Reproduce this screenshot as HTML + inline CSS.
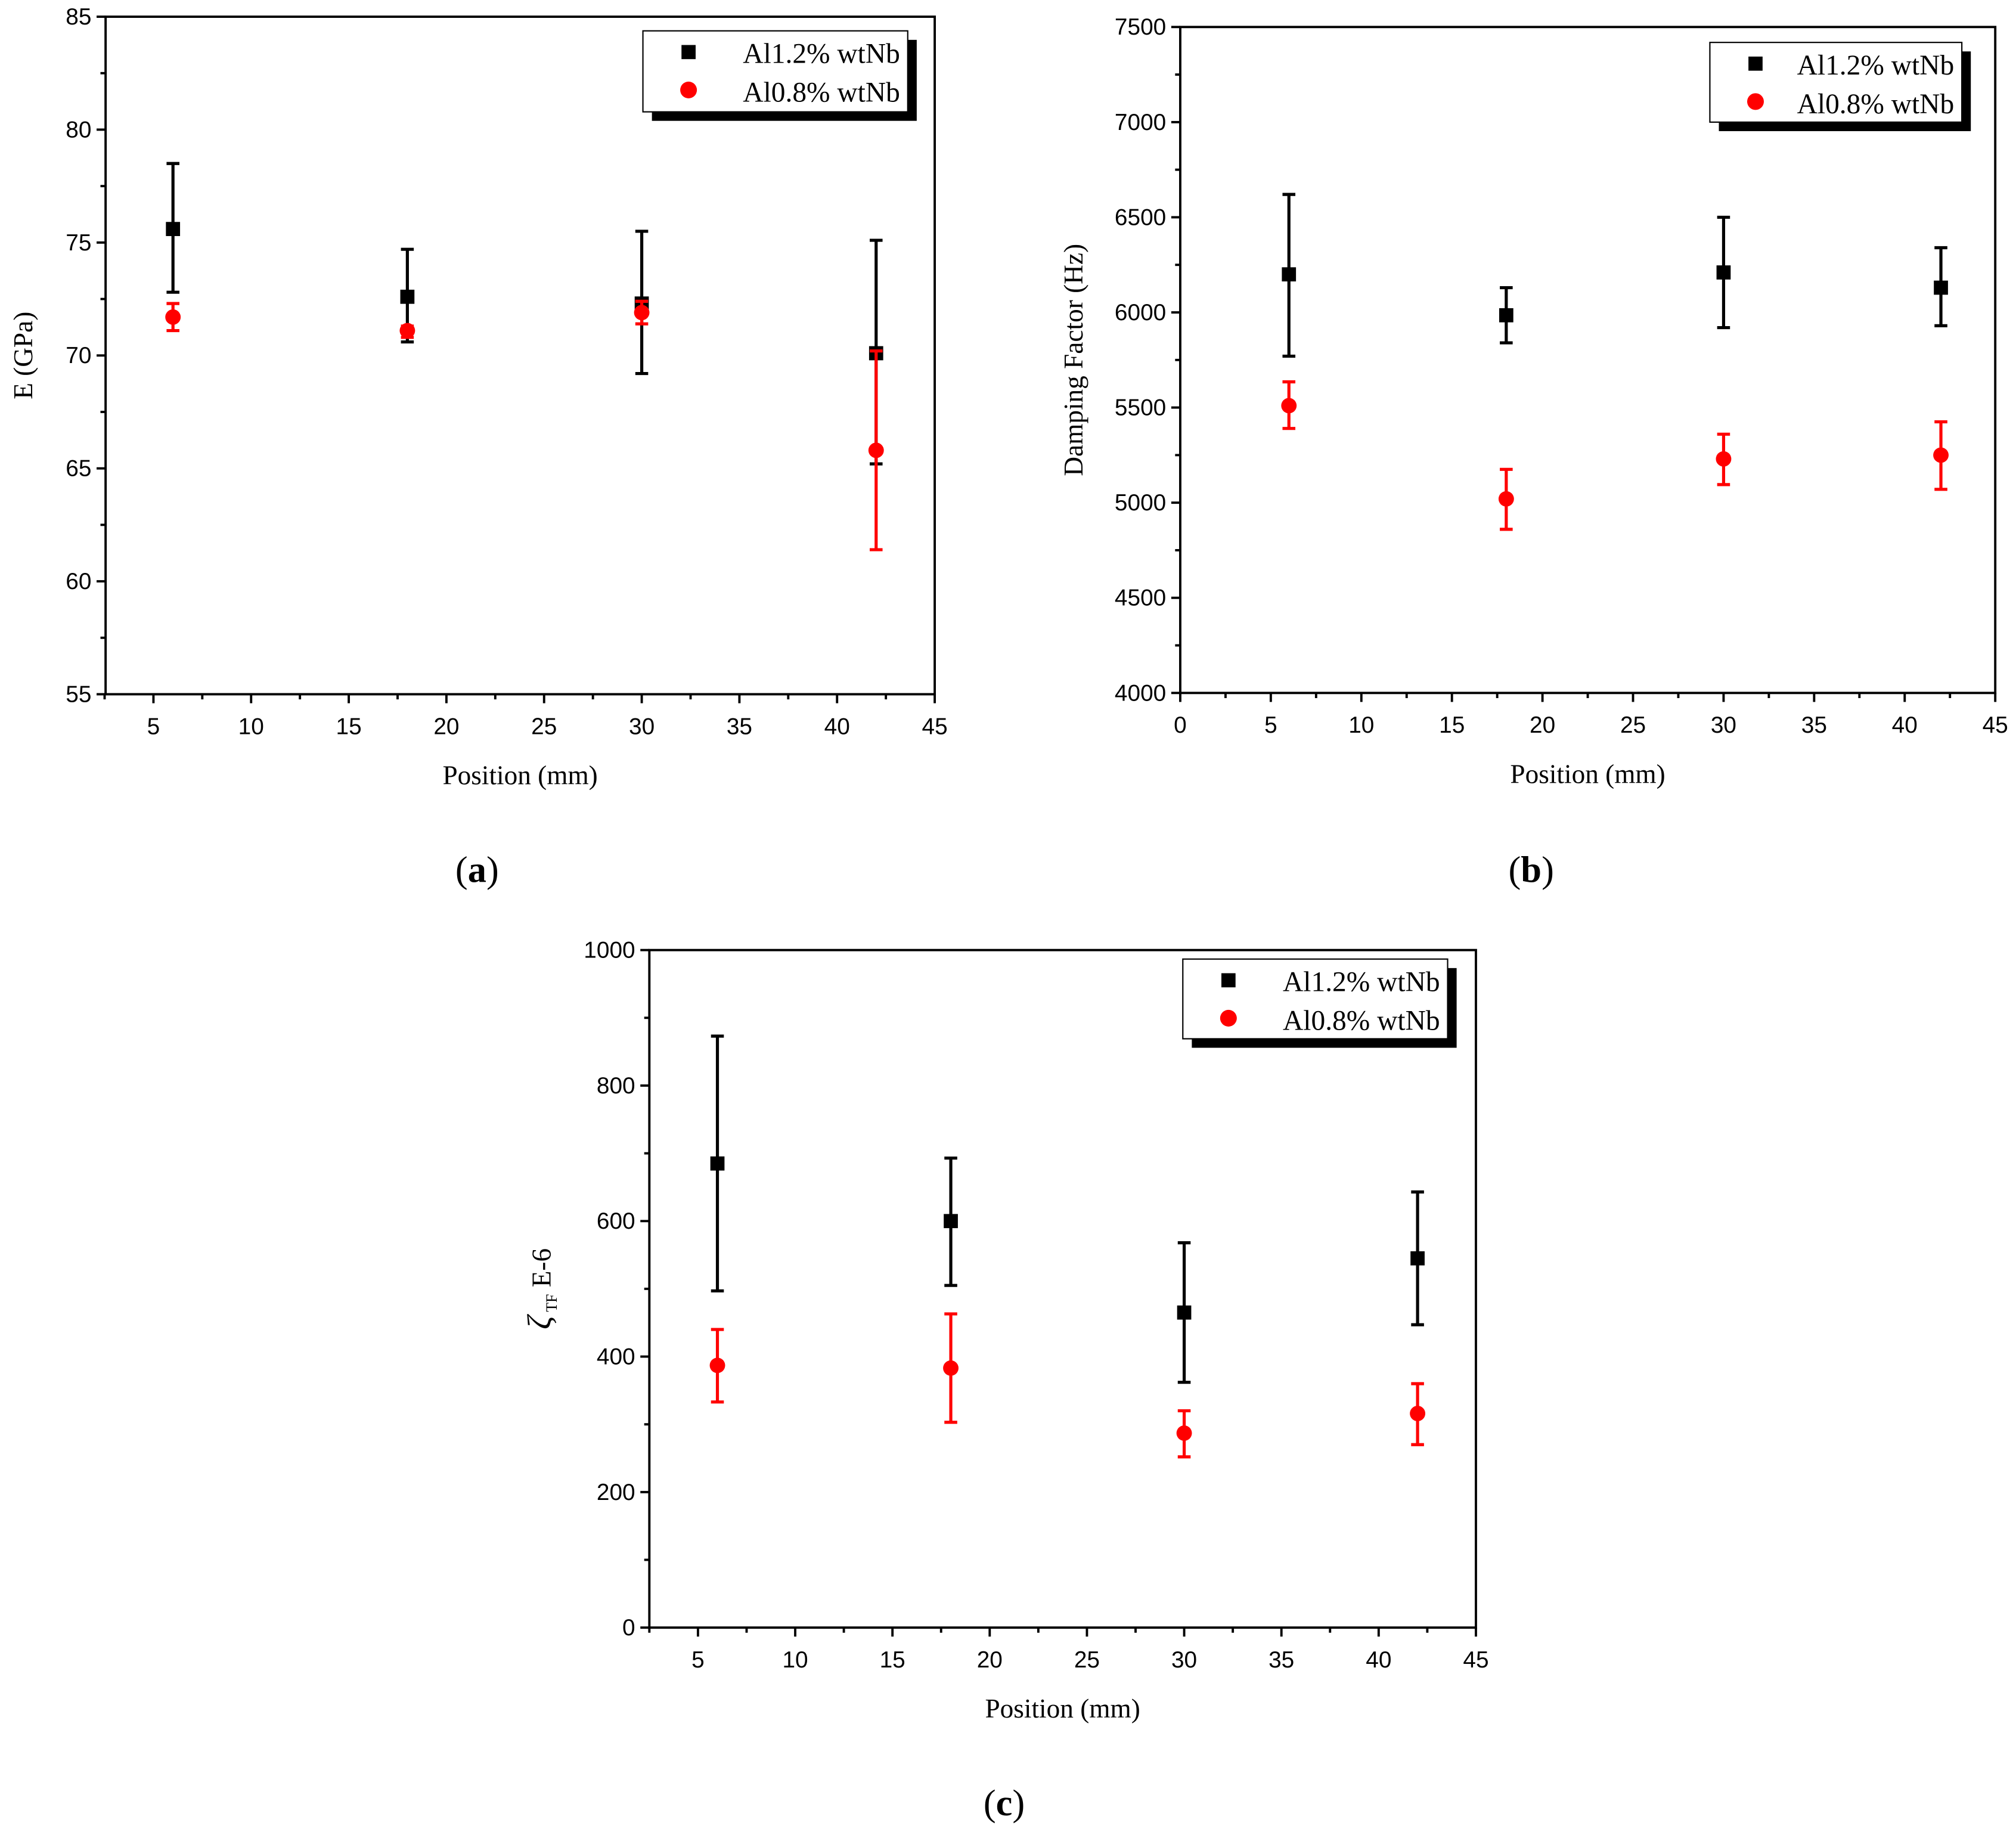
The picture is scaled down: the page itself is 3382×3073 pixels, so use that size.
<!DOCTYPE html>
<html><head><meta charset="utf-8"><style>
html,body{margin:0;padding:0;background:#fff;}
svg{display:block;}
.tk{font-family:"Liberation Sans",sans-serif;font-size:18px;}
.ti{font-family:"Liberation Serif",serif;font-size:21px;}
.lg{font-family:"Liberation Serif",serif;font-size:22px;}
</style></head><body>
<svg id="chart" width="3382" height="3073" viewBox="0 0 1568 1425" xmlns="http://www.w3.org/2000/svg"></svg>
<script>
// ---- data ----
const positions = [6, 18, 30, 42];
const aBlack = [75.6, 72.6, 72.3, 70.1];
const aBlackLo = [72.8, 70.6, 69.2, 65.2];
const aBlackHi = [78.5, 74.7, 75.5, 75.1];
const aRed = [71.7, 71.1, 71.9, 65.8];
const aRedLo = [71.1, 70.8, 71.4, 61.4];
const aRedHi = [72.3, 71.3, 72.4, 70.2];
const bBlack = [6200, 5985, 6210, 6130];
const bBlackLo = [5770, 5840, 5920, 5930];
const bBlackHi = [6620, 6130, 6500, 6340];
const bRed = [5510, 5020, 5230, 5250];
const bRedLo = [5390, 4860, 5095, 5070];
const bRedHi = [5635, 5175, 5360, 5425];
const cBlack = [685, 600, 465, 545];
const cBlackLo = [497, 505, 362, 447];
const cBlackHi = [873, 693, 568, 643];
const cRed = [387, 383, 287, 316];
const cRedLo = [333, 303, 252, 270];
const cRedHi = [440, 463, 320, 360];
const aXTicks = [5,10,15,20,25,30,35,40,45];
const aYTicks = [55,60,65,70,75,80,85];
const bXTicks = [0,5,10,15,20,25,30,35,40,45];
const bYTicks = [4000,4500,5000,5500,6000,6500,7000,7500];
const cXTicks = [5,10,15,20,25,30,35,40,45];
const cYTicks = [0,200,400,600,800,1000];
const legendLabels = ["Al1.2% wtNb","Al0.8% wtNb"];

const NS="http://www.w3.org/2000/svg";
const svg=document.getElementById('chart');
function mk(tag,attrs,parent,text){
  const e=document.createElementNS(NS,tag);
  for(const k in attrs)e.setAttribute(k,attrs[k]);
  if(text!==undefined)e.textContent=text;
  (parent||svg).appendChild(e);return e;
}
function panel(id,box,xr,yr,xt,yt,xmin,ymin,series,ytitle,ytx,leg,label,labelPos){
  const g=mk('g',{});
  
  
  const X=v=>box.x0+(v-xr[0])/(xr[1]-xr[0])*(box.x1-box.x0);
  const Y=v=>box.y1-(v-yr[0])/(yr[1]-yr[0])*(box.y1-box.y0);
  const fr=mk('rect',{x:box.x0,y:box.y0,width:box.x1-box.x0,height:box.y1-box.y0,fill:'none',stroke:'#000','stroke-width':1.8},g);
  
  
  for(let i=0;i<xt.length;i++){
    const x=X(xt[i]);
    mk('line',{x1:x,x2:x,y1:box.y1,y2:box.y1+7,stroke:'#000','stroke-width':1.8},g);
    const t=mk('text',{x:x,y:box.y1+31,'text-anchor':'middle',class:'tk'},g,xt[i]);
    
    
    if(i<xt.length-1){const m=X((xt[i]+xt[i+1])/2);mk('line',{x1:m,x2:m,y1:box.y1,y2:box.y1+4,stroke:'#000','stroke-width':1.8},g);}
  }
  if(xmin!==null){const m=X(xmin);mk('line',{x1:m,x2:m,y1:box.y1,y2:box.y1+4,stroke:'#000','stroke-width':1.8},g);}
  for(let i=0;i<yt.length;i++){
    const y=Y(yt[i]);
    mk('line',{x1:box.x0-7,x2:box.x0,y1:y,y2:y,stroke:'#000','stroke-width':1.8},g);
    const t=mk('text',{x:box.x0-11,y:y+6,'text-anchor':'end',class:'tk'},g,yt[i]);
    
    
    if(i<yt.length-1){
      for(let k=1;k<ymin;k++){const m=Y(yt[i]+(yt[i+1]-yt[i])*k/ymin);mk('line',{x1:box.x0-4,x2:box.x0,y1:m,y2:m,stroke:'#000','stroke-width':1.8},g);}
    }
  }
  const xl=mk('text',{x:(box.x0+box.x1)/2,y:box.y1+70,'text-anchor':'middle',class:'ti'},g,'Position (mm)');
  
  
  const yy=(box.y0+box.y1)/2;
  if(ytitle==='zeta'){
    const t=mk('text',{transform:`translate(${ytx},${yy}) rotate(-90)`,'text-anchor':'middle',class:'ti'},g);
    
    
    mk('tspan',{'font-style':'italic','font-size':26},t,'ζ');
    mk('tspan',{'font-size':12,dy:5},t,' TF');
    mk('tspan',{dy:-5},t,' E-6');
  } else {
    const t=mk('text',{transform:`translate(${ytx},${yy}) rotate(-90)`,'text-anchor':'middle',class:'ti'},g,ytitle);
    
    
  }
  series.forEach((s,si)=>{
    const sg=mk('g',{},g);
    
    
    for(let i=0;i<positions.length;i++){
      const x=X(positions[i]),lo=Y(s.lo[i]),hi=Y(s.hi[i]),y=Y(s.v[i]);
      const e=mk('path',{d:`M${x},${lo}V${hi}M${x-5},${lo}H${x+5}M${x-5},${hi}H${x+5}`,stroke:s.c,'stroke-width':2.4,fill:'none'},sg);
      
      
      let p;
      if(si===0)p=mk('rect',{x:x-5.5,y:y-5.5,width:11,height:11,fill:s.c},sg);
      else p=mk('circle',{cx:x,cy:y,r:6,fill:s.c},sg);
      
      
    }
  });
  const lg=mk('g',{},g);
  
  
  mk('rect',{x:leg.x+7,y:leg.y+7,width:leg.w,height:leg.h,fill:'#000'},lg);
  mk('rect',{x:leg.x,y:leg.y,width:leg.w,height:leg.h,fill:'#fff',stroke:'#000','stroke-width':1},lg);
  const e1=mk('rect',{x:leg.x+30,y:leg.y+11,width:11,height:11,fill:'#000'},lg);
  
  
  const e2=mk('circle',{cx:leg.x+35.5,cy:leg.y+46,r:6.5,fill:'#f00'},lg);
  
  
  for(let k=0;k<2;k++){
    const t=mk('text',{x:leg.x+leg.w-6,y:leg.y+25+k*30,'text-anchor':'end',class:'lg'},lg,legendLabels[k]);
    
    
  }
  const pl=mk('text',{x:labelPos[0],y:labelPos[1],'text-anchor':'middle','font-family':'Liberation Serif, serif','font-size':29},g);
  
  
  mk('tspan',{},pl,'(');mk('tspan',{'font-weight':'bold'},pl,label);mk('tspan',{},pl,')');
}
panel('panel-a',{x0:82,x1:727,y0:13,y1:540},[2.55,45],[55,85],aXTicks,aYTicks,2.5,2,
  [{v:aBlack,lo:aBlackLo,hi:aBlackHi,c:'#000'},{v:aRed,lo:aRedLo,hi:aRedHi,c:'#f00'}],
  'E (GPa)',25,{x:500,y:24,w:206,h:63},'a',[371,686]);
panel('panel-b',{x0:918,x1:1552,y0:21,y1:539},[0,45],[4000,7500],bXTicks,bYTicks,null,2,
  [{v:bBlack,lo:bBlackLo,hi:bBlackHi,c:'#000'},{v:bRed,lo:bRedLo,hi:bRedHi,c:'#f00'}],
  'Damping Factor (Hz)',842,{x:1330,y:33,w:196,h:62},'b',[1191,686]);
panel('panel-c',{x0:505,x1:1148,y0:739,y1:1266},[2.5,45],[0,1000],cXTicks,cYTicks,2.5,2,
  [{v:cBlack,lo:cBlackLo,hi:cBlackHi,c:'#000'},{v:cRed,lo:cRedLo,hi:cRedHi,c:'#f00'}],
  'zeta',428,{x:920,y:746,w:206,h:62},'c',[781,1412]);
</script>
</body></html>
